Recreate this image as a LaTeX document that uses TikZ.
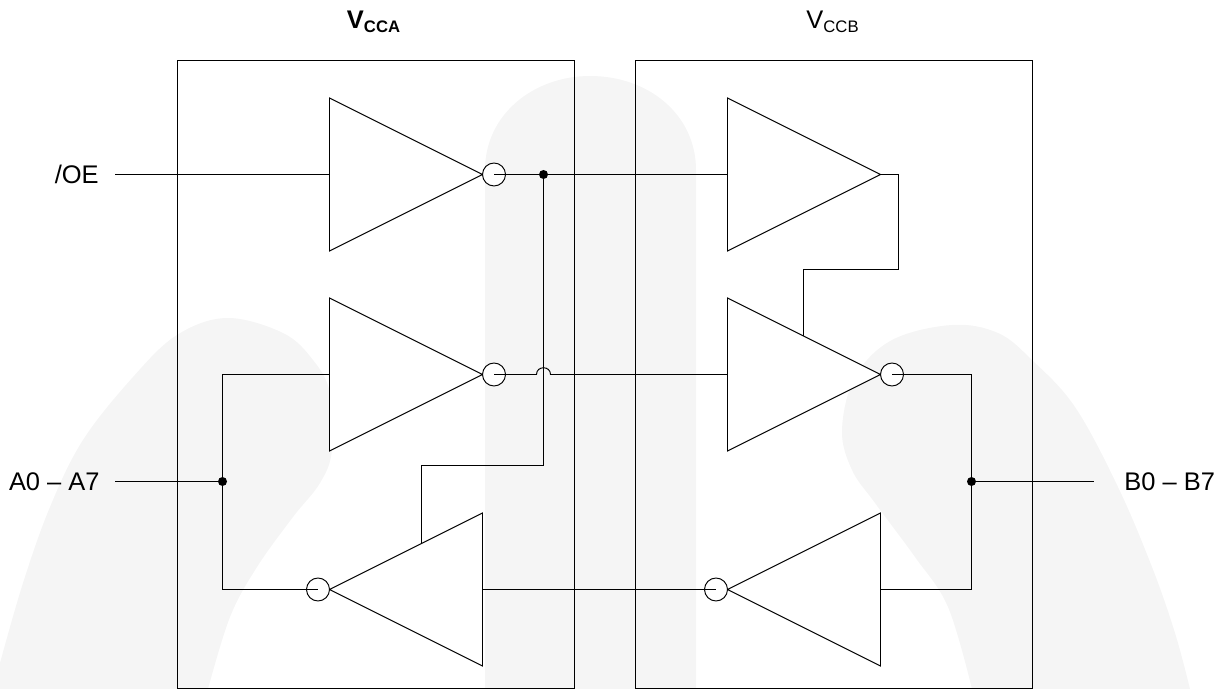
\documentclass[tikz,border=0pt]{standalone}
\usepackage{fontspec}
\setmainfont{Liberation Sans}
\usetikzlibrary{calc}
\definecolor{wmark}{HTML}{F5F5F5}
\tikzset{
	wire/.style={draw=black,line width=0.55pt},
	buffer/.style={draw=black,fill=white,line width=0.55pt},
	ring/.style={circle,draw=black,fill=white,line width=0.55pt,minimum size=0.46cm,inner sep=0pt},
	dot/.style={circle,fill=black,minimum size=0.18cm,inner sep=0pt},
	pin/.style={font=\fontsize{14.5}{18}\selectfont,inner sep=0pt}
}
\newcommand{\vlabel}[1]{V\textsubscript{\fontsize{9.5}{11}\selectfont #1}}
\begin{document}
\begin{tikzpicture}[x=0.02cm,y=-0.02cm]
	
	\useasboundingbox (0,0) rectangle (1225,689);
	
	% Background marks
	\fill [wmark] (485,689) -- (485,170) .. controls (485,115) and (533,76) .. (590,76) .. controls (649,76) and (696,115) .. (696,170) -- (696,689) -- cycle;
	\fill [wmark] plot [smooth,tension=0.6] coordinates {(0,663) (23,583) (50,507) (83,440) (133,377) (177,335) (227,318) (283,333) (313,360) (330,393) (332,450) (320,483) (293,517) (257,567) (230,617) (208,689)} -- (0,689) -- cycle;
	\fill [wmark] plot [smooth,tension=0.6] coordinates {(972,689) (948,607) (915,557) (875,503) (852,470) (842,430) (855,377) (892,340) (952,325) (998,333) (1032,360) (1075,407) (1118,487) (1152,567) (1175,633) (1190,689)} -- cycle;
	
	% Supply boxes
	\draw [wire] (177.5,60.5) rectangle (574.5,688.5);
	\draw [wire] (635.5,60.5) rectangle (1032.5,688.5);
	\node [pin] (vcca) at (374,21.5) {\textbf{\vlabel{CCA}}};
	\node [pin] (vccb) at (833,21.5) {\vlabel{CCB}};
	
	% Buffers: name, base x, centre y, direction
	\foreach \n/\x/\y/\d in {oea/329.5/174.5/1,oeb/727.5/174.5/1,ab/329.5/374.5/1,ba/727.5/374.5/1,inva/482.5/589.5/-1,invb/880.5/589.5/-1} {
		\coordinate (\n) at (\x,\y);
		\coordinate (\n-top) at (\x,\y-76.5);
		\coordinate (\n-bot) at (\x,\y+76.5);
		\coordinate (\n-tip) at (\x+\d*153,\y);
		\draw [buffer] (\n-top) -- (\n-tip) -- (\n-bot) -- cycle;
	}
	
	% Rings
	\node [ring] (ring1) at ($ (oea-tip) + (11.5,0) $) {};
	\node [ring] (ring2) at ($ (ab-tip) + (11.5,0) $) {};
	\node [ring] (ring3) at ($ (ba-tip) + (11.5,0) $) {};
	\node [ring] (ring4) at ($ (inva-tip) + (-11.5,0) $) {};
	\node [ring] (ring5) at ($ (invb-tip) + (-11.5,0) $) {};
	
	% Junctions
	\node [dot] (joe) at (543.5,174.5) {};
	\node [dot] (ja) at (222.5,481.5) {};
	\node [dot] (jb) at (971.5,481.5) {};
	
	% Pins
	\node [pin,anchor=east] (oe) at (99,174.5) {/OE};
	\node [pin,anchor=east] (pa) at (100,481.5) {A0 – A7};
	\node [pin,anchor=west] (pb) at (1124,481.5) {B0 – B7};
	\coordinate (oe-end) at (115,174.5);
	\coordinate (pa-end) at (115,481.5);
	\coordinate (pb-end) at (1094,481.5);
	
	% Output enable
	\draw [wire] (oe-end) -- (oea);
	\draw [wire] (ring1.center) -- (oeb);
	\coordinate (en1) at (543.5,465.5);
	\coordinate (en2) at (421.5,465.5);
	\coordinate (en3) at (421.5,543.5);
	\draw [wire] (joe.center) -- (en1) -- (en2) -- (en3);
	\coordinate (en4) at (898.5,174.5);
	\coordinate (en5) at (898.5,269.5);
	\coordinate (en6) at (803.5,269.5);
	\coordinate (en7) at (803.5,336.5);
	\draw [wire] (oeb-tip) -- (en4) -- (en5) -- (en6) -- (en7);
	
	% A to B
	\coordinate (hop1) at (536.5,374.5);
	\coordinate (hop2) at (550.5,374.5);
	\draw [wire] (ring2.center) -- (hop1) .. controls (536.5,365.5) and (550.5,365.5) .. (hop2) -- (ba);
	\coordinate (a1) at (222.5,374.5);
	\coordinate (a2) at (222.5,589.5);
	\draw [wire] (pa-end) -- (ja.center);
	\draw [wire] (ab) -- (a1) -- (a2) -- (ring4.center);
	
	% B to A
	\draw [wire] (inva) -- (ring5.center);
	\coordinate (b1) at (971.5,589.5);
	\coordinate (b2) at (971.5,374.5);
	\draw [wire] (invb) -- (b1) -- (b2) -- (ring3.center);
	\draw [wire] (jb.center) -- (pb-end);
	
\end{tikzpicture}
\end{document}
